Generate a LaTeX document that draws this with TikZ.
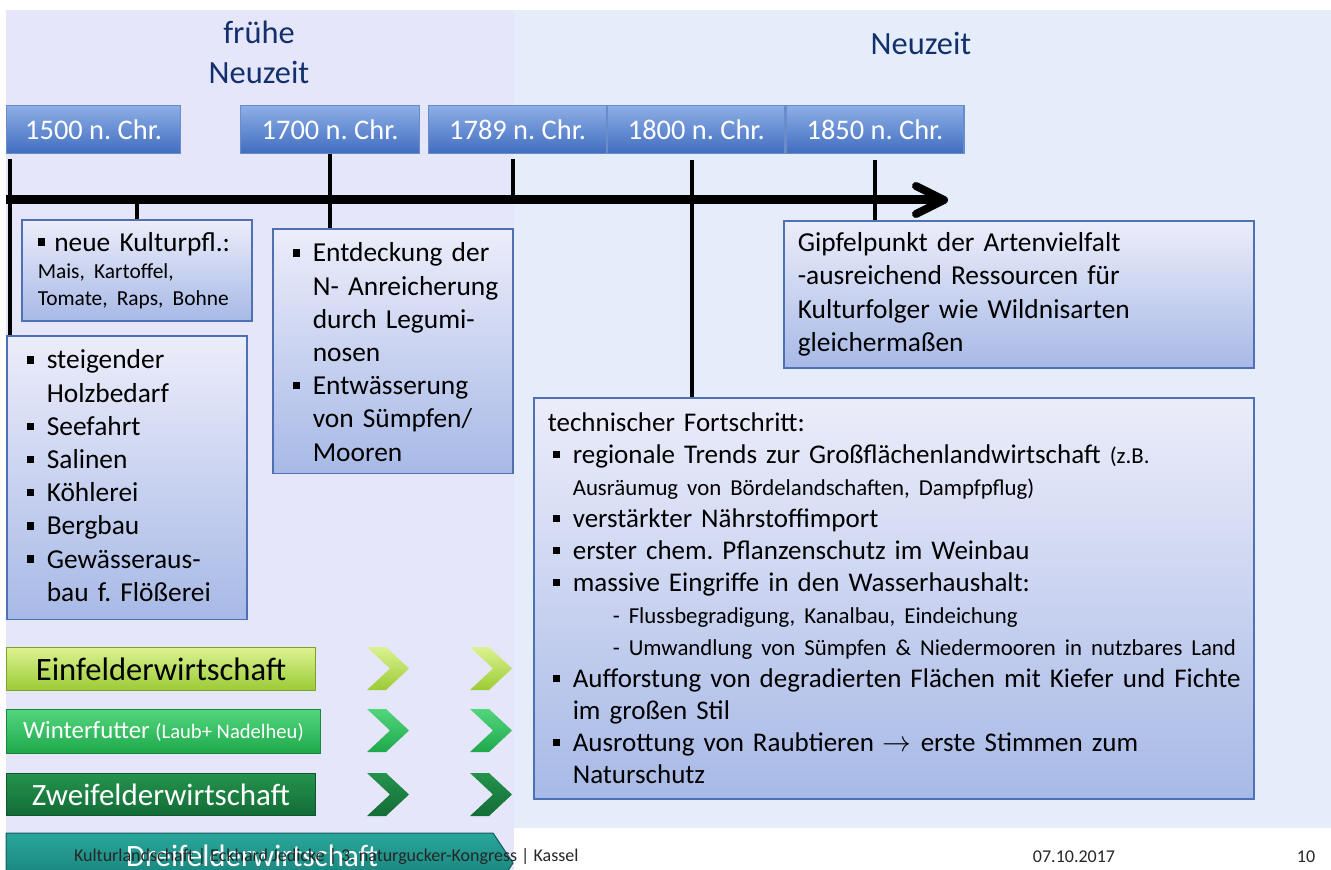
\documentclass[tikz,border=0pt]{standalone}
\usepackage{fontspec}
\setmainfont{Carlito}
\usetikzlibrary{arrows.meta,positioning}
\frenchspacing

\definecolor{lavendel}{HTML}{E6E6FA}
\definecolor{hellblau}{HTML}{E5EDFB}
\definecolor{titelblau}{HTML}{12306B}
\definecolor{datumoben}{HTML}{8DAFE6}
\definecolor{datumunten}{HTML}{416DC0}
\definecolor{datumrand}{HTML}{6A8CCB}
\definecolor{boxoben}{HTML}{ECEDFA}
\definecolor{boxunten}{HTML}{A7B9E6}
\definecolor{boxrand}{HTML}{4E71B6}
\definecolor{einoben}{HTML}{DCF290}
\definecolor{einunten}{HTML}{9BCB35}
\definecolor{winteroben}{HTML}{52D67D}
\definecolor{winterunten}{HTML}{1FA84B}
\definecolor{zweioben}{HTML}{24934C}
\definecolor{zweiunten}{HTML}{136C37}
\definecolor{dreioben}{HTML}{2AA69B}
\definecolor{dreiunten}{HTML}{127872}

\newcommand\grosstext{\fontsize{13.7pt}{16.6pt}\selectfont}
\newcommand\kleintext{\fontsize{11.4pt}{16pt}\selectfont}
\newcommand\sqb{\rule[.2em]{.27em}{.27em}}
\newcommand\itm[2][0pt]{\par\hangindent=\dimexpr10pt+#1\relax\hangafter=1\noindent\hspace*{#1}\makebox[10pt][l]{\sqb}#2}
\newcommand\hochschieben[1]{\par\vspace{#1}\nointerlineskip\null}

\tikzset{
  infobox/.style={draw=boxrand, line width=.8pt, top color=boxoben, bottom color=boxunten,
    inner xsep=8pt, inner ysep=0pt, align=left, anchor=north west, font=\grosstext},
  datum/.style={draw=datumrand, line width=.6pt, top color=datumoben, bottom color=datumunten,
    text=white, inner sep=0pt, minimum height=24pt, anchor=north west,
    font=\fontsize{14.2pt}{17pt}\selectfont},
  balken/.style={inner sep=0pt, anchor=north west, draw=#1unten!80!black, line width=.5pt,
    top color=#1oben, bottom color=#1unten},
  tick/.style={line width=2pt},
  achse/.style={line width=4.5pt, -{Straight Barb[length=14pt,width=14pt,round,line width=4pt]}},
  titel/.style={text=titelblau, align=center, font=\fontsize{16.2pt}{20pt}\selectfont},
  fuss/.style={font=\fontsize{9pt}{11pt}\selectfont, text=black!85}
}

\begin{document}
\begin{tikzpicture}[x=0.5pt, y=-0.5pt]
  \useasboundingbox (0,0) rectangle (1331,870);
  \fill[lavendel] (6,10) rectangle (514,870);
  \fill[hellblau] (514,10) rectangle (1331,828);

  \node[titel] (fruehe) at (259,52) {frühe\\Neuzeit};
  \node[titel] (neuzeit) at (921,43) {Neuzeit};

  \node[datum, minimum width=87pt] (d1500) at (6,105) {1500 n. Chr.};
  \node[datum, minimum width=89.5pt] (d1700) at (240,105) {1700 n. Chr.};
  \node[datum, minimum width=89pt] (d1789) at (428,105) {1789 n. Chr.};
  \node[datum, minimum width=88.5pt, right=0pt of d1789] (d1800) {1800 n. Chr.};
  \node[datum, minimum width=89pt, right=0pt of d1800] (d1850) {1850 n. Chr.};

  \coordinate (axl) at (6,200);
  \coordinate (axr) at (948,200);
  \draw[achse] (axl) -- (axr);

  \node[infobox, text width=99pt, minimum height=50.5pt] (kultur) at (21,219)
    {\sqb\ neue Kulturpfl.:\par\fontsize{10.7pt}{13.5pt}\selectfont Mais, Kartoffel,\newline Tomate, Raps, Bohne\par};
  \node[infobox, inner xsep=10pt, text width=100pt, minimum height=140.5pt] (holz) at (6,335)
    {\itm{steigender\newline Holzbedarf}\itm{Seefahrt}\itm{Salinen}\itm{Köhlerei}\itm{Bergbau}%
     \itm{Gewässeraus-\newline bau f. Flößerei}\hochschieben{9pt}};
  \node[infobox, inner xsep=6pt, text width=108pt, minimum height=122pt] (legum) at (272,228)
    {\itm[4pt]{Entdeckung der\newline \mbox{N- Anreicherung}\newline durch Legumi-\newline nosen}%
     \itm[4pt]{Entwässerung\newline von Sümpfen/\newline Mooren}\hochschieben{6pt}};
  \node[infobox, inner xsep=7pt, text width=221pt, minimum height=73.5pt] (gipfel) at (783,220)
    {Gipfelpunkt der Artenvielfalt\newline -ausreichend Ressourcen für\newline
     Kulturfolger wie Wildnisarten\newline gleichermaßen\par};
  \node[infobox, inner xsep=7pt, text width=346pt, minimum height=200.5pt,
    font=\fontsize{13.5pt}{16pt}\selectfont] (technik) at (533,397)
    {technischer Fortschritt:
     \itm[2.5pt]{regionale Trends zur Großflächenlandwirtschaft {\kleintext(z.B.}\newline
       {\kleintext Ausräumug von Bördelandschaften, Dampfpflug)}}%
     \itm[2.5pt]{verstärkter Nährstoffimport}%
     \itm[2.5pt]{erster chem. Pflanzenschutz im Weinbau}%
     \itm[2.5pt]{massive Eingriffe in den Wasserhaushalt:\newline
       {\kleintext\hspace*{20pt}- Flussbegradigung, Kanalbau, Eindeichung}\newline
       {\kleintext\hspace*{20pt}\mbox{- Umwandlung von Sümpfen \& Niedermooren in nutzbares Land}}}%
     \itm[2.5pt]{\mbox{Aufforstung von degradierten Flächen mit Kiefer und Fichte}\newline im großen Stil}%
     \itm[2.5pt]{Ausrottung von Raubtieren $\rightarrow$ erste Stimmen zum\newline Naturschutz}\par};

  \draw[tick] ([xshift=2pt,yshift=-2.5pt]d1500.south west) -- ([xshift=2pt]holz.north west);
  \draw[tick] (kultur.north) -- (kultur.north |- axl);
  \draw[tick] (d1700.south) -- (d1700.south |- legum.north);
  \draw[tick] ([xshift=-2.5pt,yshift=-2.5pt]d1789.south) -- ([xshift=-2.5pt]d1789.south |- axl);
  \draw[tick] ([xshift=-2pt,yshift=-3pt]d1800.south) -- ([xshift=-2pt]d1800.south |- technik.north);
  \draw[tick] ([yshift=-3pt]d1850.south) -- (d1850.south |- gipfel.north);

  \node[balken=ein, minimum width=154.5pt, minimum height=21.5pt,
    font=\fontsize{16.3pt}{19pt}\selectfont] (einfeld) at (6,647) {Einfelderwirtschaft};
  \node[balken=winter, minimum width=157pt, minimum height=22pt, text=white,
    font=\fontsize{12.4pt}{15pt}\selectfont] (winter) at (6,709)
    {Winterfutter {\fontsize{10.3pt}{12pt}\selectfont(Laub+ Nadelheu)}};
  \node[balken=zwei, minimum width=154.5pt, minimum height=21pt, text=white,
    font=\fontsize{15.5pt}{18pt}\selectfont] (zweifeld) at (6,773) {Zweifelderwirtschaft};

  \foreach \y/\farbe in {647/ein, 709/winter, 773/zwei}
    \foreach \x in {367, 470}
      \path[top color=\farbe oben, bottom color=\farbe unten]
        (\x,\y) -- ++(19,0) -- ++(23,21.5) -- ++(-23,21.5) -- ++(-19,0) -- ++(23,-21.5) -- cycle;

  \path[draw=dreiunten!80!black, line width=.5pt, top color=dreioben, bottom color=dreiunten]
    (6,833) -- (493,833) -- (513,863) -- (493,893) -- (6,893) -- cycle;
  \node[text=white, font=\fontsize{15.5pt}{18pt}\selectfont] (dreifeld) at (252,856) {Dreifelderwirtschaft};

  \node[fuss, anchor=west] (fusszeile) at (67,857)
    {Kulturlandschaft | Eckhard Jedicke | 3. naturgucker-Kongress | Kassel};
  \node[fuss] (fussdatum) at (1074,857) {07.10.2017};
  \node[fuss] (seite) at (1306,857) {10};
\end{tikzpicture}
\end{document}
